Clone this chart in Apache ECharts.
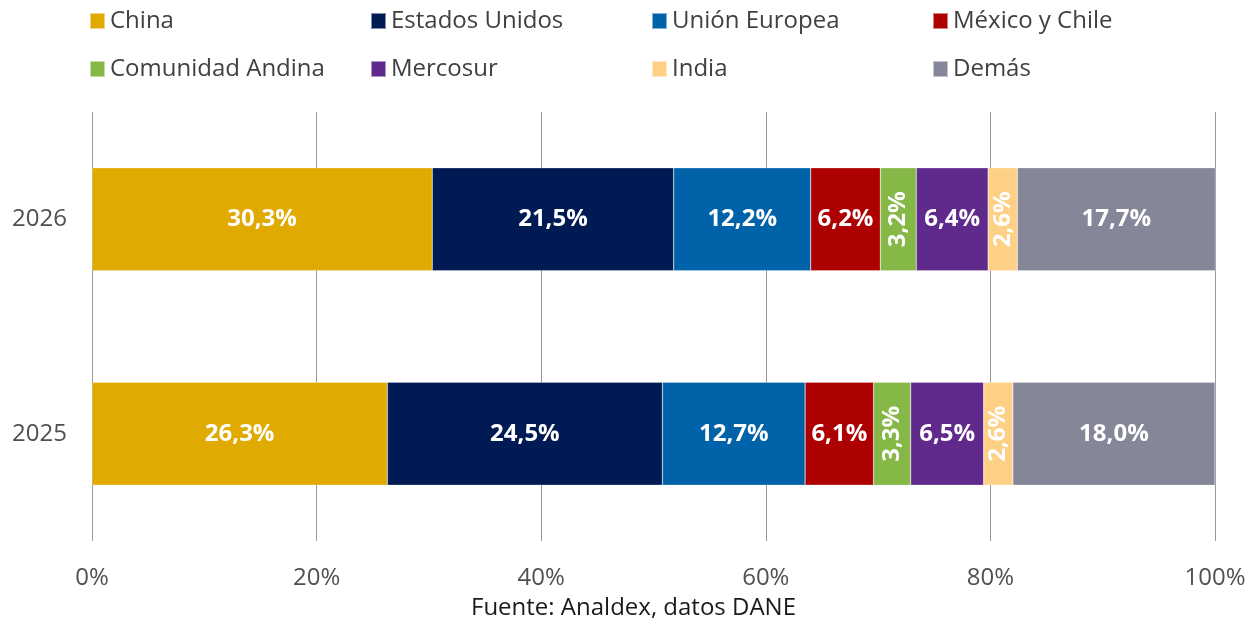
<!DOCTYPE html>
<html>
<head>
<meta charset="utf-8">
<script src="https://cdn.jsdelivr.net/npm/echarts@6/dist/echarts.min.js"></script>
<style>
  html, body { margin: 0; padding: 0; background: #fff; }
  #chart { width: 1257px; height: 624px; }
</style>
</head>
<body>
<div id="chart"></div>
<script type="text/javascript">
// datos
var years = ['2025', '2026'];
var seriesNames = ['China', 'Estados Unidos', 'Unión Europea', 'México y Chile',
                   'Comunidad Andina', 'Mercosur', 'India', 'Demás'];
var china      = [26.3, 30.3];
var eeuu       = [24.5, 21.5];
var ue         = [12.7, 12.2];
var mexChile   = [6.1, 6.2];
var can        = [3.3, 3.2];
var mercosur   = [6.5, 6.4];
var india      = [2.6, 2.6];
var demas      = [18.0, 17.7];
var xTicks = [0, 20, 40, 60, 80, 100];

var allValues = [china, eeuu, ue, mexChile, can, mercosur, india, demas];
var colors = ['#E1AA00', '#001B54', '#0063AA', '#AD0000', '#85B847', '#5F2A8B', '#FDD086', '#858799'];

var FONT = 'Open Sans';
var chart = echarts.init(document.getElementById('chart'));

var series = [];
for (var i = 0; i < seriesNames.length; i++) {
  series.push({
    name: seriesNames[i],
    type: 'bar',
    stack: 'total',
    barCategoryGap: '52%',
    itemStyle: { color: colors[i], borderColor: 'rgba(255,255,255,0.5)', borderWidth: 0.5 },
    label: {
      show: true,
      color: '#fff',
      fontFamily: FONT,
      fontWeight: 'bold',
      fontSize: 24,
      formatter: function (p) { return p.value.toFixed(1).replace('.', ',') + '%'; }
    },
    data: allValues[i].map(function (v) {
      return v < 4 ? { value: v, label: { rotate: 90 } } : v;
    })
  });
}

// leyenda en 4 columnas
var legends = [];
var colX = [89, 370, 651, 932];
for (var c = 0; c < 4; c++) {
  legends.push({
    orient: 'vertical',
    left: colX[c],
    top: 9,
    padding: 0,
    itemGap: 24,
    itemWidth: 15,
    itemHeight: 16,
    icon: 'rect',
    selectedMode: false,
    textStyle: { fontFamily: FONT, fontSize: 24, color: '#404040', padding: [0, 0, 0, 0] },
    data: [seriesNames[c], seriesNames[c + 4]]
  });
}

var option = {
  animation: false,
  color: colors,
  textStyle: { fontFamily: FONT },
  legend: legends,
  title: {
    text: 'Fuente: Analdex, datos DANE',
    left: 471,
    top: 596,
    padding: 0,
    textStyle: { fontFamily: FONT, fontSize: 24, fontWeight: 'normal', color: '#1a1a1a' }
  },
  grid: { left: 92, right: 42, top: 112, bottom: 83, containLabel: false },
  xAxis: {
    type: 'value',
    min: 0,
    max: 100,
    interval: 20,
    axisLine: { show: false },
    axisTick: { show: false },
    splitLine: { show: true, lineStyle: { color: '#999', width: 1 } },
    axisLabel: {
      margin: 25,
      fontFamily: FONT,
      fontSize: 24,
      color: '#505050',
      formatter: function (v) { return xTicks.indexOf(v) >= 0 ? v + '%' : ''; }
    }
  },
  yAxis: {
    type: 'category',
    data: years,
    axisLine: { show: false },
    axisTick: { show: false },
    axisLabel: { margin: 25, fontFamily: FONT, fontSize: 24, color: '#505050' }
  },
  series: series
};

chart.setOption(option);
</script>
</body>
</html>
